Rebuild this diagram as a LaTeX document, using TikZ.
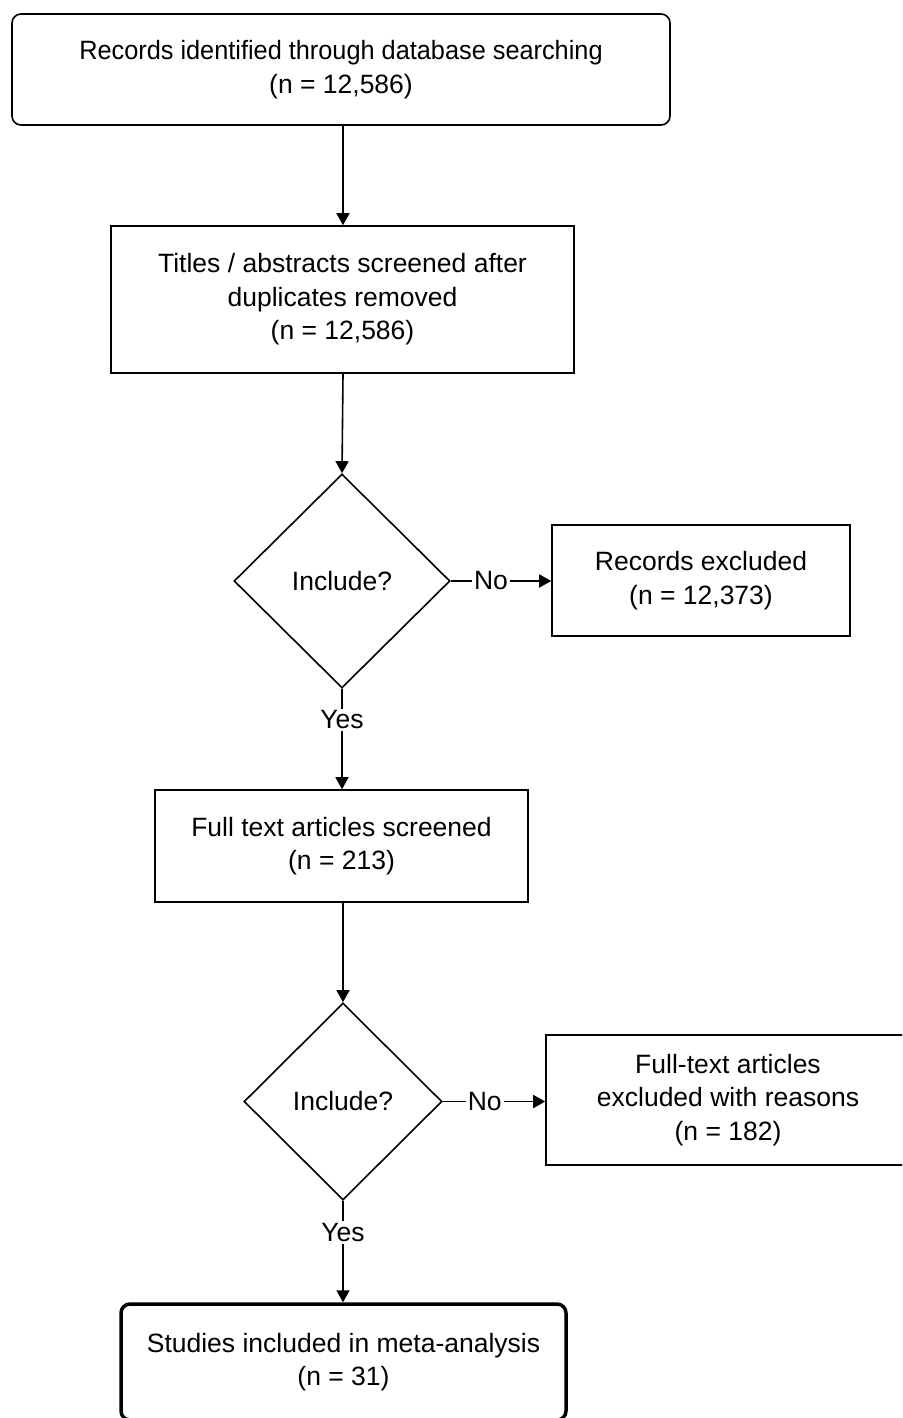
\documentclass[tikz,border=0pt]{standalone}
\usepackage{fontspec}
\usepackage{graphicx}
\setmainfont{Liberation Sans}
\usetikzlibrary{shapes.geometric,arrows.meta}
\begin{document}
\begin{tikzpicture}[x=1pt,y=-1pt,
  every node/.style={font=\fontsize{26.5}{33.5}\selectfont, align=center},
  box/.style={draw, line width=1.6pt, inner sep=0pt},
  rbox/.style={box, rounded corners=9pt},
  finalbox/.style={draw, line width=3.5pt, rounded corners=9pt, inner sep=0pt},
  decide/.style={draw, diamond, line width=1.6pt, inner sep=0pt, shape aspect=1},
  conn/.style={line width=1.6pt, -{Triangle[length=12pt,width=13pt]}},
  lbl/.style={fill=white, inner sep=2pt}
]
\clip (0,0) rectangle (902,1418);
\fill[white] (0,0) rectangle (902,1418);

\node[rbox, minimum width=658pt, minimum height=111pt] (b1) at (341,69.5)
  {\scalebox{0.955}[1]{Records identified through database searching}\\(n = 12,586)};
\node[box, minimum width=463pt, minimum height=147pt] (b2) at (342.5,299.5)
  {Titles / abstracts screened after\\duplicates removed\\(n = 12,586)};
\node[decide, minimum width=216pt, minimum height=214pt] (d1) at (342,581) {Include?};
\node[box, minimum width=298pt, minimum height=111pt] (b3) at (701,580.5)
  {Records excluded\\(n = 12,373)};
\node[box, minimum width=373pt, minimum height=112pt] (b4) at (341.5,846)
  {Full text articles screened\\(n = 213)};
\node[decide, minimum width=198pt, minimum height=197pt] (d2) at (343,1101.5) {Include?};
\node[box, minimum width=364pt, minimum height=130pt] (b5) at (728,1100)
  {Full-text articles\\excluded with reasons\\(n = 182)};
\node[finalbox, minimum width=445pt, minimum height=116pt] (b6) at (343.5,1362)
  {Studies included in meta-analysis\\(n = 31)};

\draw[conn] (b1.south -| 343,0) -- (b2.north -| 343,0);
\draw[conn] (b2.south -| 343,0) -- (d1.north);
\draw[conn] (d1.east) -- node[lbl, pos=0.4] (no1) {No} (b3.west |- d1.east);
\draw[conn] (d1.south) -- node[lbl, pos=0.31] (yes1) {Yes} (b4.north -| d1.south);
\draw[conn] (b4.south -| 343,0) -- (d2.north);
\draw[conn] (d2.east) -- node[lbl, pos=0.41] (no2) {No} (b5.west |- d2.east);
\draw[conn] (d2.south) -- node[lbl, pos=0.31] (yes2) {Yes} (b6.north -| d2.south);
\end{tikzpicture}
\end{document}
